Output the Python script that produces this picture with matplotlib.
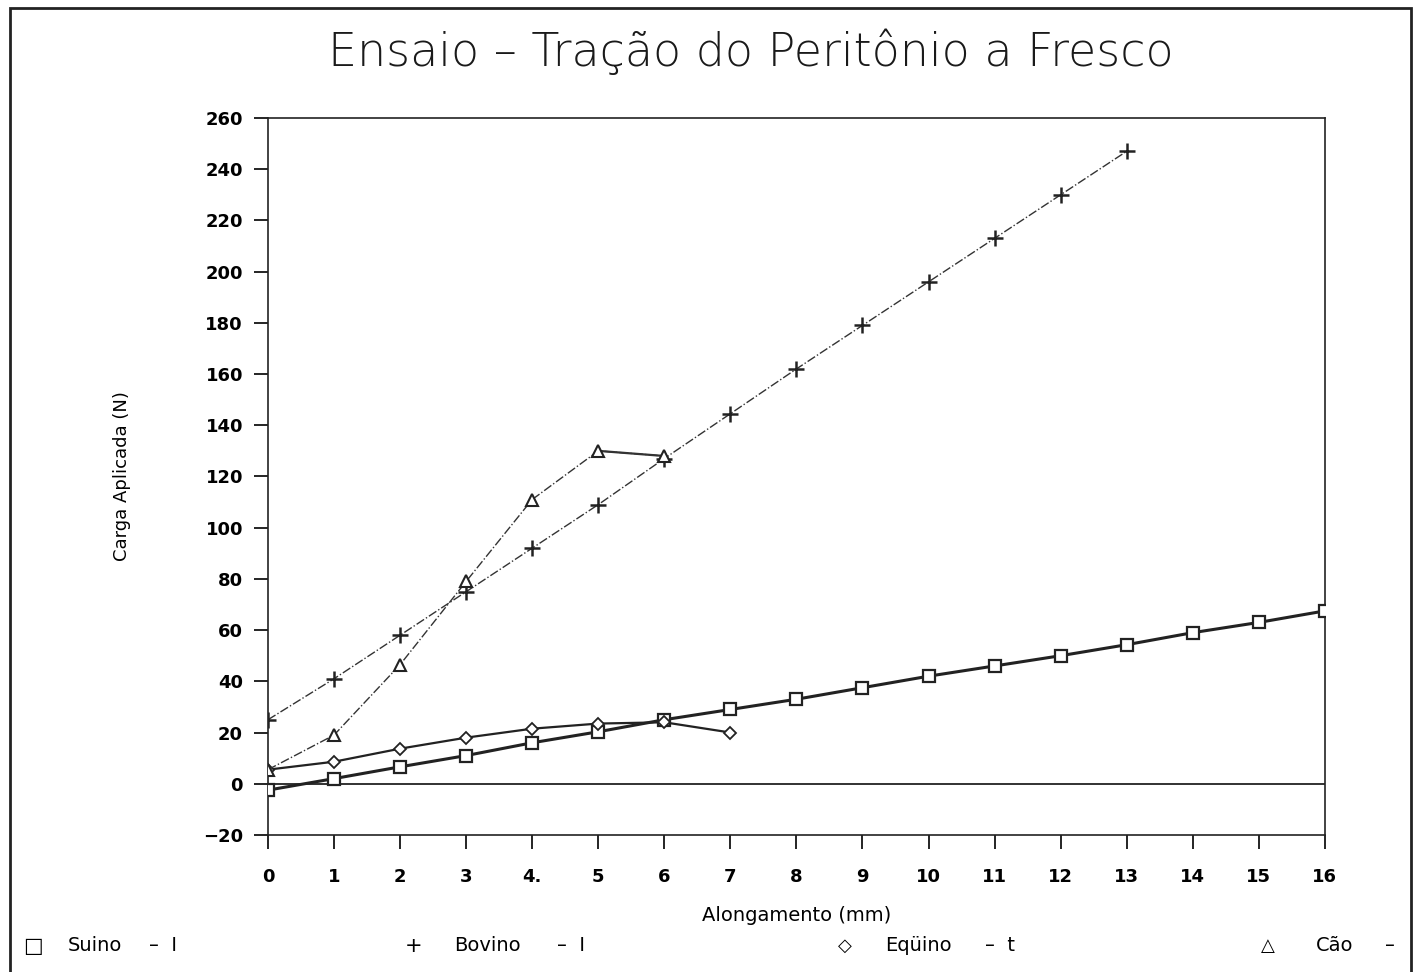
import numpy as np
import matplotlib.pyplot as plt
from matplotlib.patches import Rectangle

# data
x_suino = list(range(0, 17))
y_suino = [-2.5, 2, 6.6, 11, 16, 20.3, 25, 29, 33, 37.5, 42, 46, 50, 54.3, 59, 63, 67.5]

x_bovino = list(range(0, 14))
y_bovino = [25, 41, 58, 75, 92, 109, 127, 144.5, 162, 179, 196, 213, 230, 247]

x_equino = list(range(0, 8))
y_equino = [5.5, 8.6, 13.7, 18, 21.5, 23.5, 24, 20]

x_cao = list(range(0, 7))
y_cao = [5.5, 19, 46.5, 79, 111, 130, 128]

xticks = list(range(0, 17))
xtick_labels = ['0', '1', '2', '3', '4.', '5', '6', '7', '8', '9', '10', '11', '12', '13', '14', '15', '16']
yticks = list(range(-20, 261, 20))

fig = plt.figure(figsize=(14.2, 9.72), dpi=100)
ax = fig.add_axes([0.1887, 0.141, 0.7443, 0.7376])

# series
ax.plot(x_suino, y_suino, '-', color='#222222', lw=2.2, marker='s', ms=9,
        mfc='white', mec='#222222', mew=1.6, zorder=3)
ax.plot(x_equino, y_equino, '-', color='#222222', lw=1.6, marker='D', ms=6,
        mfc='white', mec='#222222', mew=1.3, zorder=3)
ax.plot(x_bovino, y_bovino, '-.', color='#333333', lw=1.0, marker='+', ms=11,
        mew=1.8, mec='#222222', zorder=3)
ax.plot(x_cao, y_cao, '-.', color='#333333', lw=1.0, marker='^', ms=9,
        mfc='white', mec='#222222', mew=1.5, zorder=3)
ax.plot(x_cao[-2:], y_cao[-2:], '-', color='#333333', lw=1.6, zorder=2)

# zero line
ax.axhline(0, color='#222222', lw=1.3, zorder=1)

ax.set_xlim(0, 16)
ax.set_ylim(-20, 260)
ax.set_xticks(xticks)
ax.set_xticklabels(xtick_labels)
ax.set_yticks(yticks)
ax.tick_params(direction='out', length=10, width=1.2, labelsize=13, pad=8)
ax.tick_params(axis='x', pad=14)
for lbl in ax.get_xticklabels() + ax.get_yticklabels():
    lbl.set_fontweight('semibold')
for s in ax.spines.values():
    s.set_linewidth(1.2)
    s.set_color('#222222')

ax.set_xlabel('Alongamento (mm)', fontsize=14, labelpad=14)
ax.set_ylabel('Carga Aplicada (N)', fontsize=13, labelpad=52)

fig.text(0.529, 0.947, 'Ensaio \u2013 Tração do Peritônio a Fresco', ha='center',
         va='center', fontsize=33, color='#1a1a1a', fontweight='light')

# legend row at the bottom
leg_y = 0.027
fig.text(0.023, leg_y, '\u25a1', fontsize=15, va='center', ha='center')
fig.text(0.048, leg_y, 'Suino', fontsize=14, va='center')
fig.text(0.105, leg_y, '\u2013  I', fontsize=14, va='center')
fig.text(0.291, leg_y, '+', fontsize=15, va='center', ha='center')
fig.text(0.320, leg_y, 'Bovino', fontsize=14, va='center')
fig.text(0.392, leg_y, '\u2013  I', fontsize=14, va='center')
fig.text(0.595, leg_y, '\u25c7', fontsize=13, va='center', ha='center')
fig.text(0.623, leg_y, 'Eqüino', fontsize=14, va='center')
fig.text(0.694, leg_y, '\u2013  t', fontsize=14, va='center')
fig.text(0.893, leg_y, '\u25b3', fontsize=13, va='center', ha='center')
fig.text(0.927, leg_y, 'Cão', fontsize=14, va='center')
fig.text(0.975, leg_y, '\u2013', fontsize=14, va='center')

# outer frame
fig.patches.append(Rectangle((0.007, -0.01), 0.987, 1.002, transform=fig.transFigure,
                             fill=False, lw=2, ec='#222222'))

fig.savefig('out.png', dpi=100)
